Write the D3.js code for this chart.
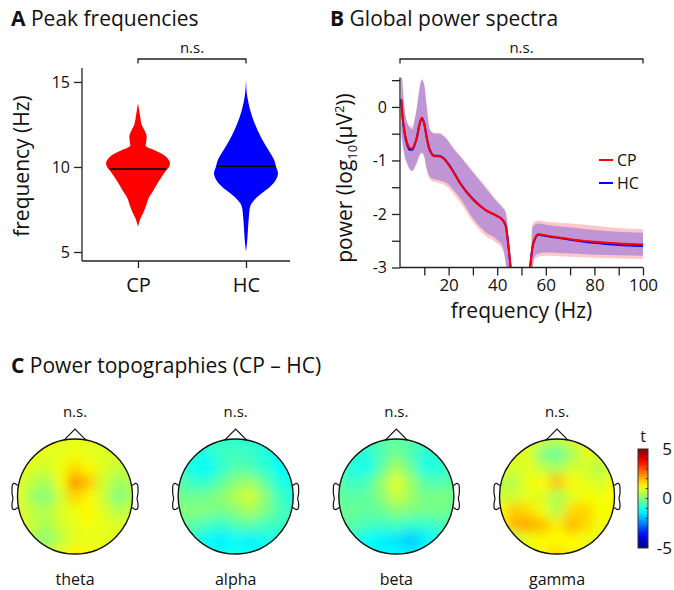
<!DOCTYPE html>
<html><head><meta charset="utf-8">
<script src="https://cdn.jsdelivr.net/npm/d3@7"></script>
<style>
body{margin:0;background:#fff}
svg{display:block;font-family:"Open Sans",sans-serif}
</style>
</head><body>
<svg id="chart" width="674" height="590"></svg>
<script>
// ---------------- DATA ----------------
// Panel A: violins (frequency in Hz, relative density)
const violinGroups = ["CP", "HC"];
const violinColors = ["#ff0000", "#0000ff"];
const cpFreq    = [13.75, 13.06, 12.47, 12.08, 11.78, 11.39, 11.25, 11.0, 10.7, 10.41, 10.22, 10.02, 9.72, 9.33, 8.94, 8.55, 8.16, 7.76, 7.37, 6.98, 6.49];
const cpDensity = [0, 0.06, 0.12, 0.22, 0.27, 0.25, 0.24, 0.5, 0.81, 0.96, 1.0, 0.97, 0.85, 0.71, 0.58, 0.46, 0.33, 0.26, 0.18, 0.08, 0];
const hcFreq    = [15.12, 14.14, 13.35, 12.57, 11.78, 11.0, 10.41, 10.02, 9.63, 9.24, 8.84, 8.45, 8.06, 7.67, 7.08, 6.29, 5.51, 5.02];
const hcDensity = [0, 0.04, 0.13, 0.27, 0.46, 0.70, 0.88, 0.94, 1.0, 0.93, 0.75, 0.49, 0.26, 0.13, 0.09, 0.06, 0.03, 0];
const medians = [9.88, 10.04];
const freqTicks = [5, 10, 15];

// Panel B: global power spectra (log10 power)
const specFreq = [0.5, 1, 2, 3, 4, 5, 6, 7, 8, 9, 10, 11, 12, 13, 14, 16, 18, 20, 22, 25, 30, 35, 40, 42, 43.5, 44.5, 45.5, 46.5, 50, 53.5, 54.5, 55.5, 57, 60, 70, 80, 90, 100];
const cpMean = [0.15, -0.15, -0.5, -0.68, -0.77, -0.78, -0.70, -0.56, -0.33, -0.20, -0.32, -0.58, -0.78, -0.88, -0.92, -0.92, -0.97, -1.08, -1.22, -1.45, -1.73, -1.92, -2.04, -2.10, -2.22, -2.55, -3.0, -3.6, -4.0, -3.0, -2.62, -2.46, -2.38, -2.40, -2.47, -2.52, -2.55, -2.57];
const cpLow  = [-0.45, -0.6, -0.9, -1.05, -1.15, -1.2, -1.15, -1.05, -0.92, -0.87, -0.95, -1.18, -1.32, -1.38, -1.40, -1.42, -1.45, -1.52, -1.62, -1.80, -2.15, -2.40, -2.55, -2.65, -2.95, -3.4, -4.0, -4.5, -4.5, -4.5, -3.1, -2.85, -2.80, -2.78, -2.80, -2.82, -2.83, -2.84];
const cpHigh = [0.9, 0.5, -0.05, -0.28, -0.36, -0.38, -0.22, 0.02, 0.35, 0.52, 0.42, 0.02, -0.35, -0.46, -0.48, -0.48, -0.53, -0.63, -0.76, -0.92, -1.2, -1.47, -1.75, -1.85, -1.95, -2.3, -2.9, -3.5, -4.0, -3.2, -2.2, -2.14, -2.12, -2.14, -2.18, -2.22, -2.26, -2.28];
const hcMean = [0.12, -0.17, -0.52, -0.71, -0.80, -0.80, -0.71, -0.56, -0.33, -0.21, -0.32, -0.57, -0.77, -0.87, -0.91, -0.91, -0.96, -1.07, -1.21, -1.44, -1.72, -1.92, -2.04, -2.10, -2.22, -2.55, -3.0, -3.6, -4.0, -3.0, -2.63, -2.47, -2.39, -2.41, -2.48, -2.54, -2.58, -2.60];
const hcLow  = [-0.55, -0.7, -0.95, -1.08, -1.17, -1.2, -1.12, -1.02, -0.9, -0.85, -0.92, -1.15, -1.28, -1.33, -1.35, -1.37, -1.40, -1.45, -1.55, -1.72, -2.08, -2.33, -2.48, -2.58, -2.9, -3.35, -4.0, -4.5, -4.5, -4.5, -3.05, -2.78, -2.74, -2.72, -2.74, -2.76, -2.77, -2.78];
const hcHigh = [0.9, 0.45, -0.08, -0.3, -0.38, -0.42, -0.25, 0.0, 0.33, 0.5, 0.4, 0.0, -0.38, -0.47, -0.5, -0.5, -0.55, -0.65, -0.78, -0.94, -1.22, -1.5, -1.78, -1.88, -1.98, -2.35, -2.95, -3.5, -4.0, -3.2, -2.25, -2.2, -2.18, -2.2, -2.25, -2.3, -2.33, -2.35];
const powerTicks = [0, -1, -2, -3];
const powerMinorTicks = [0.5, -0.5, -1.5, -2.5];
const hzTicks = [20, 40, 60, 80, 100];
const hzMinorTicks = [10, 30, 50, 70, 90];

// Panel C: t-value grids (9 x 9, rows front->back, cols left->right)
const bands = ["theta", "alpha", "beta", "gamma"];
const thetaT = [
  [1.1, 1.1, 1.1, 1.0, 1.0, 1.0, 1.0, 0.9, 0.9],
  [1.1, 1.0, 1.0, 1.0, 1.1, 1.0, 0.9, 0.9, 0.9],
  [1.1, 0.9, 0.8, 1.1, 1.6, 1.3, 0.9, 0.7, 0.8],
  [1.0, 0.6, 0.4, 1.1, 2.4, 1.8, 0.8, 0.3, 0.5],
  [1.0, 0.3, 0.0, 0.8, 1.7, 1.3, 0.7, 0.0, 0.4],
  [1.0, 0.6, 0.5, 0.9, 1.1, 1.3, 0.9, 0.5, 0.8],
  [1.1, 0.7, 0.4, 0.8, 1.0, 1.2, 1.0, 0.9, 1.0],
  [1.1, 0.4, 0.1, 0.6, 1.0, 1.0, 1.0, 1.0, 1.1],
  [1.2, 0.9, 0.7, 1.1, 1.4, 1.3, 1.1, 1.1, 1.2]
];
const alphaT = [
  [-0.6, -0.6, -0.6, -0.7, -0.8, -0.8, -0.9, -1.0, -1.0],
  [-0.6, -0.9, -1.0, -0.7, -0.6, -0.7, -0.9, -1.1, -1.2],
  [-0.6, -1.1, -1.3, -0.8, -0.4, -0.5, -0.8, -1.2, -1.3],
  [-0.4, -0.7, -0.8, -0.3, 0.1, 0.3, -0.3, -0.9, -1.1],
  [-0.1, -0.2, -0.1, 0.1, 0.5, 0.8, 0.2, -0.6, -0.9],
  [0.0, 0.1, 0.0, -0.1, 0.1, 0.4, 0.0, -0.5, -0.7],
  [-0.3, -0.4, -0.6, -0.8, -0.5, -0.4, -0.6, -0.7, -0.7],
  [-0.6, -0.8, -1.3, -1.4, -1.2, -1.4, -1.1, -0.9, -0.8],
  [-0.7, -0.8, -1.0, -1.1, -1.0, -1.1, -1.0, -0.9, -0.8]
];
const betaT = [
  [-0.5, -0.5, -0.5, -0.4, -0.3, -0.4, -0.5, -0.5, -0.5],
  [-0.5, -0.8, -0.9, -0.5, -0.1, -0.5, -0.9, -0.8, -0.5],
  [-0.5, -1.0, -1.1, -0.3, 0.4, -0.2, -1.0, -0.9, -0.5],
  [-0.4, -0.7, -0.5, 0.2, 1.0, 0.3, -0.4, -0.5, -0.3],
  [-0.3, -0.4, -0.3, 0.1, 0.7, 0.3, -0.1, 0.0, -0.1],
  [-0.2, -0.2, -0.3, -0.2, 0.1, 0.0, -0.1, -0.1, -0.2],
  [-0.3, -0.4, -0.6, -0.7, -0.6, -0.8, -0.8, -0.6, -0.5],
  [-0.6, -0.9, -1.2, -1.4, -1.5, -1.8, -1.4, -1.0, -0.8],
  [-0.7, -0.9, -1.1, -1.3, -1.3, -1.4, -1.2, -1.0, -0.9]
];
const gammaT = [
  [1.2, 1.2, 1.1, 0.8, 0.6, 0.9, 1.1, 1.2, 1.2],
  [1.1, 1.0, 0.9, 0.0, -0.3, 0.3, 1.0, 0.9, 1.1],
  [1.0, 0.8, 1.0, 0.6, 0.4, 0.8, 0.8, 0.5, 1.0],
  [0.6, 0.5, 1.1, 1.3, 1.9, 1.3, 1.0, 0.8, 1.2],
  [0.7, 0.8, 1.0, 0.9, 0.4, 0.9, 1.2, 1.1, 1.3],
  [1.3, 1.8, 1.6, 1.1, 0.5, 1.6, 1.7, 1.2, 1.2],
  [1.3, 2.0, 2.1, 1.9, 1.4, 2.0, 1.6, 1.1, 1.1],
  [0.8, 0.6, 1.1, 1.3, 1.2, 1.3, 1.1, 1.0, 1.1],
  [1.0, 0.7, 1.0, 1.3, 1.7, 1.3, 1.1, 1.1, 1.2]
];
const bandGrids = [thetaT, alphaT, betaT, gammaT];
const cbTicks = [5, 0, -5];

// ---------------- DRAWING ----------------
const svg = d3.select("#chart");
const axisColor = "#222";
const defs = svg.append("defs");

function styleAxis(g, fontSize) {
  g.select(".domain").remove();
  g.selectAll(".tick line").attr("stroke", axisColor).attr("stroke-width", 1.3);
  g.selectAll(".tick text").attr("fill", "#111").attr("font-size", fontSize)
    .attr("font-family", '"Open Sans",sans-serif');
}

function title(x, y, letter, rest) {
  const t = svg.append("text").attr("x", x).attr("y", y).attr("font-size", 21).attr("fill", "#111");
  t.append("tspan").attr("font-weight", "bold").text(letter);
  t.append("tspan").text(" " + rest);
}
function bracket(x1, x2, y, label) {
  svg.append("path").attr("d", `M${x1},${y + 4.5}V${y}H${x2}V${y + 4.5}`)
    .attr("fill", "none").attr("stroke", axisColor).attr("stroke-width", 1.3);
  svg.append("text").attr("x", (x1 + x2) / 2).attr("y", y - 6).attr("text-anchor", "middle")
    .attr("font-size", 15).attr("fill", "#111").text(label);
}

// ===== Panel A =====
title(11, 26, "A", "Peak frequencies");
const yA = d3.scaleLinear().domain([4.47, 15.82]).range([261, 68]);
const xA = d3.scalePoint().domain(violinGroups).range([138, 246]);
const wA = d3.scaleLinear().domain([0, 1]).range([0, 32]);

bracket(xA("CP"), xA("HC"), 59, "n.s.");

const violinData = [
  cpFreq.map((f, i) => ({f, d: cpDensity[i]})),
  hcFreq.map((f, i) => ({f, d: hcDensity[i]}))
];
violinGroups.forEach((grp, gi) => {
  const cx = xA(grp);
  const area = d3.area()
    .y(p => yA(p.f)).x0(p => cx - wA(p.d)).x1(p => cx + wA(p.d))
    .curve(d3.curveMonotoneY);
  svg.append("path").datum(violinData[gi]).attr("d", area).attr("fill", violinColors[gi]);
  const pts = violinData[gi];
  let dm = 0;
  for (let i = 0; i < pts.length - 1; i++) {
    const a = pts[i], b = pts[i + 1];
    if ((medians[gi] <= a.f && medians[gi] >= b.f)) {
      dm = a.d + (b.d - a.d) * (a.f - medians[gi]) / (a.f - b.f);
    }
  }
  svg.append("line").attr("x1", cx - wA(dm) + 1).attr("x2", cx + wA(dm) - 1)
    .attr("y1", yA(medians[gi])).attr("y2", yA(medians[gi]))
    .attr("stroke", "#000").attr("stroke-width", 1.5);
});

// axes A
svg.append("line").attr("x1", 82).attr("x2", 82).attr("y1", yA.range()[1]).attr("y2", yA.range()[0])
  .attr("stroke", axisColor).attr("stroke-width", 1.3);
svg.append("line").attr("x1", 82).attr("x2", 290).attr("y1", 261).attr("y2", 261)
  .attr("stroke", axisColor).attr("stroke-width", 1.3);
const gyA = svg.append("g").attr("transform", "translate(82,0)")
  .call(d3.axisLeft(yA).tickValues(freqTicks).tickSize(8).tickPadding(4).tickFormat(d => String(d)));
styleAxis(gyA, 16);
const gxA = svg.append("g").attr("transform", "translate(0,261)")
  .call(d3.axisBottom(xA).tickSize(7).tickPadding(10));
styleAxis(gxA, 20);
svg.append("text").attr("transform", "translate(29,166) rotate(-90)").attr("text-anchor", "middle")
  .attr("font-size", 21).attr("fill", "#111").text("frequency (Hz)");

// ===== Panel B =====
title(330, 26, "B", "Global power spectra");
const xB = d3.scaleLinear().domain([0, 100]).range([400, 643]);
const yB = d3.scaleLinear().domain([-3, 0.55]).range([267.5, 77.5]);
bracket(xB(0), xB(100), 59, "n.s.");

defs.append("clipPath").attr("id", "clipB").append("rect")
  .attr("x", xB(0)).attr("y", yB(0.55)).attr("width", xB(100) - xB(0)).attr("height", yB(-3) - yB(0.55));
const plotB = svg.append("g").attr("clip-path", "url(#clipB)");

const bandArea = (lo, hi) => d3.area().x((f) => xB(f))
  .y0((f, i) => yB(lo[i])).y1((f, i) => yB(hi[i])).curve(d3.curveMonotoneX);
const meanLine = (m) => d3.line().x(f => xB(f)).y((f, i) => yB(m[i])).curve(d3.curveMonotoneX);

plotB.append("path").datum(specFreq).attr("d", bandArea(cpLow, cpHigh)).attr("fill", "#ff0000").attr("fill-opacity", 0.22);
plotB.append("path").datum(specFreq).attr("d", bandArea(hcLow, hcHigh)).attr("fill", "#0000ff").attr("fill-opacity", 0.25);
plotB.append("path").datum(specFreq).attr("d", meanLine(hcMean)).attr("fill", "none").attr("stroke", "#0000ff").attr("stroke-width", 2);
plotB.append("path").datum(specFreq).attr("d", meanLine(cpMean)).attr("fill", "none").attr("stroke", "#ff0000").attr("stroke-width", 2);

svg.append("line").attr("x1", 400).attr("x2", 400).attr("y1", yB(0.55)).attr("y2", yB(-3))
  .attr("stroke", axisColor).attr("stroke-width", 1.3);
svg.append("line").attr("x1", 400).attr("x2", xB(100)).attr("y1", yB(-3)).attr("y2", yB(-3))
  .attr("stroke", axisColor).attr("stroke-width", 1.3);
const gyB = svg.append("g").attr("transform", "translate(400,0)")
  .call(d3.axisLeft(yB).tickValues(powerTicks).tickSize(8).tickPadding(5).tickFormat(d => String(d)));
styleAxis(gyB, 16);
const gyB2 = svg.append("g").attr("transform", "translate(400,0)")
  .call(d3.axisLeft(yB).tickValues(powerMinorTicks).tickSize(8).tickFormat(""));
styleAxis(gyB2, 16);
const gxB = svg.append("g").attr("transform", `translate(0,${yB(-3)})`)
  .call(d3.axisBottom(xB).tickValues(hzTicks).tickSize(8).tickPadding(3).tickFormat(d => String(d)));
styleAxis(gxB, 17);
const gxB2 = svg.append("g").attr("transform", `translate(0,${yB(-3)})`)
  .call(d3.axisBottom(xB).tickValues(hzMinorTicks).tickSize(8).tickFormat(""));
styleAxis(gxB2, 17);

svg.append("text").attr("x", (xB(0) + xB(100)) / 2).attr("y", 318).attr("text-anchor", "middle")
  .attr("font-size", 21).attr("fill", "#111").text("frequency (Hz)");
const yl = svg.append("text").attr("transform", "translate(352,178) rotate(-90)").attr("text-anchor", "middle")
  .attr("font-size", 21).attr("fill", "#111");
yl.append("tspan").text("power (log");
yl.append("tspan").attr("font-size", 13).attr("dy", 5).text("10");
yl.append("tspan").attr("dy", -5).text("(μV");
yl.append("tspan").attr("font-size", 13).attr("dy", -8).text("2");
yl.append("tspan").attr("dy", 8).text("))");

// legend
[["CP", "#ff0000", 160], ["HC", "#0000ff", 183]].forEach(([lab, col, y]) => {
  svg.append("line").attr("x1", 599).attr("x2", 613).attr("y1", y).attr("y2", y).attr("stroke", col).attr("stroke-width", 2);
  svg.append("text").attr("x", 617).attr("y", y + 6).attr("font-size", 16).attr("fill", "#111").text(lab);
});

// ===== Panel C =====
title(11, 373, "C", "Power topographies (CP \u2013 HC)");
const jet = d3.scaleLinear()
  .domain([-5, -3.75, -1.25, 1.25, 3.75, 5])
  .range(["#00007f", "#0000ff", "#00ffff", "#ffff00", "#ff0000", "#7f0000"])
  .clamp(true);
const headX = d3.scalePoint().domain(bands).range([75, 557]);
const headY = 496.5, R = 57.5;
const cellScale = d3.scaleBand().domain(d3.range(9)).range([-1.12 * R, 1.12 * R]);

defs.append("filter").attr("id", "topoBlur").attr("x", "-20%").attr("y", "-20%").attr("width", "140%").attr("height", "140%")
  .append("feGaussianBlur").attr("stdDeviation", 5.5);
defs.append("clipPath").attr("id", "headClip").append("circle").attr("r", R);

bands.forEach((b, bi) => {
  const g = svg.append("g").attr("transform", `translate(${headX(b)},${headY})`);
  const cells = [];
  bandGrids[bi].forEach((row, r) => row.forEach((v, c) => cells.push({r, c, v})));
  const clipG = g.append("g").attr("clip-path", "url(#headClip)");
  clipG.append("g").selectAll("rect").data(cells).join("rect")
    .attr("x", d => cellScale(d.c)).attr("y", d => cellScale(d.r))
    .attr("width", cellScale.bandwidth() + 0.5).attr("height", cellScale.bandwidth() + 0.5)
    .attr("fill", d => jet(d.v));
  clipG.append("g").attr("filter", "url(#topoBlur)").selectAll("rect").data(cells).join("rect")
    .attr("x", d => cellScale(d.c)).attr("y", d => cellScale(d.r))
    .attr("width", cellScale.bandwidth() + 0.5).attr("height", cellScale.bandwidth() + 0.5)
    .attr("fill", d => jet(d.v));
  g.append("circle").attr("r", R).attr("fill", "none").attr("stroke", "#111").attr("stroke-width", 1.4);
  g.append("path").attr("d", `M-11,${-R + 1.2}L0,${-R - 10}L11,${-R + 1.2}`)
    .attr("fill", "none").attr("stroke", "#111").attr("stroke-width", 1.2);
  [-1, 1].forEach(s => {
    const x0 = s * (R - 0.3), x1 = s * (R + 5.5);
    g.append("path").attr("d",
      `M${x0},-11 L${s * (R + 2.5)},-13 Q${x1},-13.5 ${x1},-9 L${x1},-3 L${s * (R + 4.5)},2 L${x1},7 L${x1},10 Q${x1},13.5 ${s * (R + 2.5)},13 L${x0},11`)
      .attr("fill", "none").attr("stroke", "#111").attr("stroke-width", 1.2);
  });
  svg.append("text").attr("x", headX(b)).attr("y", 417).attr("text-anchor", "middle")
    .attr("font-size", 15).attr("fill", "#111").text("n.s.");
  svg.append("text").attr("x", headX(b)).attr("y", 585).attr("text-anchor", "middle")
    .attr("font-size", 16).attr("fill", "#111").text(b);
});

// colorbar
const cbY = d3.scaleLinear().domain([-5, 5]).range([548, 449]);
const grad = defs.append("linearGradient").attr("id", "jetGrad").attr("x1", 0).attr("x2", 0).attr("y1", 1).attr("y2", 0);
d3.range(-5, 5.01, 0.5).forEach(v => grad.append("stop").attr("offset", (v + 5) / 10).attr("stop-color", jet(v)));
svg.append("rect").attr("x", 638).attr("y", cbY(5)).attr("width", 10).attr("height", cbY(-5) - cbY(5))
  .attr("fill", "url(#jetGrad)").attr("stroke", "#333").attr("stroke-width", 1);
d3.range(-4, 5).forEach(v => {
  svg.append("line").attr("x1", 645.5).attr("x2", 648).attr("y1", cbY(v)).attr("y2", cbY(v))
    .attr("stroke", "#333").attr("stroke-width", 1);
});
cbTicks.forEach(v => {
  svg.append("text").attr("x", 672).attr("y", cbY(v)).attr("dy", "0.35em").attr("text-anchor", "end")
    .attr("font-size", 17).attr("fill", "#111").text(String(v));
});
svg.append("text").attr("x", 643).attr("y", 442).attr("text-anchor", "middle")
  .attr("font-size", 16).attr("fill", "#111").text("t");
</script>
</body></html>
